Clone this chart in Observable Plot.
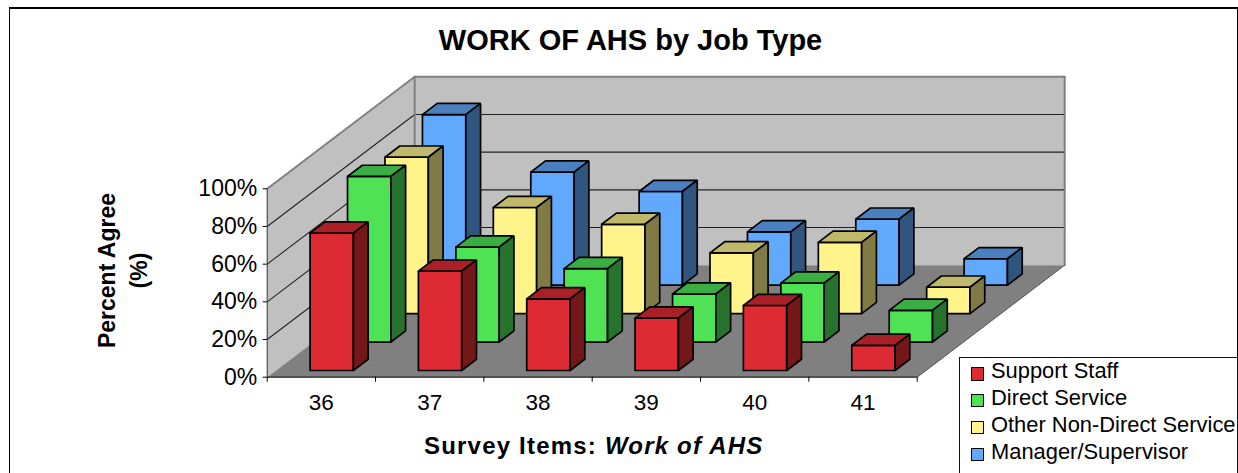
<!DOCTYPE html>
<html><head><meta charset="utf-8">
<script src="https://cdn.jsdelivr.net/npm/d3@7"></script>
<script src="https://cdn.jsdelivr.net/npm/@observablehq/plot@0.6"></script>
<style>
html,body{margin:0;padding:0;background:#fff;overflow:hidden}
#chart{position:relative;width:1238px;height:473px;font-family:"Liberation Sans",Arial,sans-serif;color:#000;overflow:hidden}
#chart svg{position:absolute;left:0;top:0;background:transparent}
#border{position:absolute;left:9.3px;top:7px;width:1229px;height:480px;border:solid #000;border-width:2px 1.6px 0 1.8px;box-sizing:border-box}
#legend{position:absolute;left:959px;top:357px;width:279px;height:116px;background:#fff;border:solid #111;border-width:1.2px 1.2px 0 1.2px;box-sizing:border-box;font-size:21.9px}
.row{position:absolute;left:10.5px;white-space:nowrap;line-height:24px;height:24px}
.sw{position:absolute;left:0;top:8px;width:13.5px;height:13.5px;border:1.6px solid #000;box-sizing:border-box}
.lb{position:absolute;left:20.5px;top:0}
</style></head><body><div id="chart"><div id="border"></div></div>
<script>
const categories = ["36","37","38","39","40","41"];
const seriesNames = ["Support Staff","Direct Service","Other Non-Direct Service","Manager/Supervisor"];
const supportStaff = [72.9,52.7,38,27.8,34.5,13.3];
const directService = [87.9,50.4,39,25.5,31.3,16.8];
const otherNonDirect = [83,56.3,47.4,32.2,37.8,14];
const managerSupervisor = [90.5,60,49.7,28.3,35,14];
const yTicks = [0,20,40,60,80,100];
const faceColors = ["#DE2B33","#4FE255","#FFF38A","#60A9FF"];
const topColors = ["#A92026","#3AAE42","#C0B86B","#4A80BF"];
const sideColors = ["#741718","#27722C","#807A45","#305680"];
const seriesValues = [supportStaff,directService,otherNonDirect,managerSupervisor];

// oblique projection: depth (0..1) shifts both scales
const DX = 1.3615, DY = 59.45;
const P = (c,d,v)=>({X:c+DX*d, Y:v+DY*d});
let id=0;
function poly(pts,fill){
  const k=id++;
  return [...pts,pts[0]].map(p=>{const q=P(...p);return {X:q.X,Y:q.Y,k,fill}});
}
const BARW=0.4, BARD=0.1, SX=0.314;
const wall=[ [[0,0,0],[0,1,0],[0,1,100],[0,0,100]], [[0,1,0],[6,1,0],[6,1,100],[0,1,100]] ];
const floor=[[0,0,0],[6,0,0],[6,1,0],[0,1,0]];
const bars=[];
for(let s=3;s>=0;s--){
  categories.forEach((_,i)=>{
    const v=seriesValues[s][i], c0=i+SX, c1=c0+BARW, d0=0.06+0.254*s, d1=d0+BARD;
    bars.push(poly([[c0,d0,0],[c1,d0,0],[c1,d0,v],[c0,d0,v]],faceColors[s]));
    bars.push(poly([[c0,d0,v],[c1,d0,v],[c1,d1,v],[c0,d1,v]],topColors[s]));
    bars.push(poly([[c1,d0,0],[c1,d1,0],[c1,d1,v],[c1,d0,v]],sideColors[s]));
  });
}
const seg=(a,b,g)=>[{...P(...a),g},{...P(...b),g}];
const gridLines=yTicks.filter(t=>t>0&&t<100).flatMap(t=>[...seg([0,0,t],[0,1,t],"l"+t),...seg([0,1,t],[6,1,t],"b"+t)]);
const wallEdges=[...seg([0,0,100],[0,1,100],"a"),...seg([0,1,100],[6,1,100],"b"),...seg([6,1,100],[6,1,0],"c"),...seg([0,1,100],[0,1,0],"d")];
const floorEdge=[...seg([6,0,0],[6,1,0],"e")];
const polyMark=(data,stroke,sw)=>Plot.line(data.flat(),{x:"X",y:"Y",z:"k",fill:"fill",stroke,strokeWidth:sw,curve:"linear",strokeLinejoin:"miter"});
const FONT="Liberation Sans";

const plot=Plot.plot({
  width:1238,height:473,
  marginLeft:266.7,marginRight:321.3,marginTop:188.3,marginBottom:96.3,
  x:{domain:[0,6],axis:null},
  y:{domain:[0,100],axis:null},
  marks:[
    polyMark(wall.map(w=>poly(w,"#C0C0C0")),"none",0),
    polyMark([poly(floor,"#808080")],"none",0),
    Plot.line(gridLines,{x:"X",y:"Y",z:"g",stroke:"#222",strokeWidth:1.1}),
    Plot.line(wallEdges,{x:"X",y:"Y",z:"g",stroke:"#808080",strokeWidth:2}),
    Plot.line(floorEdge,{x:"X",y:"Y",z:"g",stroke:"#555",strokeWidth:1}),
    polyMark(bars,"#000",1.7),
    Plot.ruleX([0],{y1:0,y2:100,stroke:"#333",strokeWidth:1}),
    Plot.ruleY([0],{x1:0,x2:6,stroke:"#222",strokeWidth:1.2}),
    Plot.axisY({ticks:yTicks,label:null,tickSize:4,tickPadding:6,tickFormat:d=>d+"%",fontSize:23,fontFamily:FONT,anchor:"left",stroke:"#000"}),
    Plot.axisX({ticks:d3.range(0,7),label:null,tickSize:5,tickFormat:()=>"",anchor:"bottom",stroke:"#000"}),
    Plot.text(categories,{x:(d,i)=>i+0.5,y:0,text:d=>d,dy:26,fontSize:22.5,fontFamily:FONT,fill:"#000"}),
    Plot.text(["WORK OF AHS by Job Type"],{frameAnchor:"top-left",textAnchor:"middle",dx:630-266.7,dy:29-188.3,fontSize:29,fontWeight:"bold",fontFamily:FONT,fill:"#000"}),
    Plot.text(["Percent Agree\n(%)"],{frameAnchor:"top-left",textAnchor:"middle",dx:92-266.7,dy:270-188.3,rotate:-90,fontSize:23,fontWeight:"bold",fontFamily:FONT,lineHeight:1.38,fill:"#000",style:{letterSpacing:"0.6px"}}),
  ]
});
const chart=document.getElementById("chart");
chart.appendChild(plot);
const xt=document.createElement("div");
xt.style.cssText="position:absolute;left:424px;top:432px;font-size:24px;font-weight:bold;white-space:nowrap;letter-spacing:1.2px";
xt.innerHTML="Survey Items: <i>Work of AHS</i>";
chart.appendChild(xt);
const lg=document.createElement("div");lg.id="legend";
seriesNames.forEach((n,i)=>{
  const r=document.createElement("div");r.className="row";r.style.top=(1+i*26.9)+"px";
  const s=document.createElement("div");s.className="sw";s.style.background=faceColors[i];
  const l=document.createElement("div");l.className="lb";l.textContent=n;
  r.append(s,l);lg.appendChild(r);
});
chart.appendChild(lg);
</script></body></html>
